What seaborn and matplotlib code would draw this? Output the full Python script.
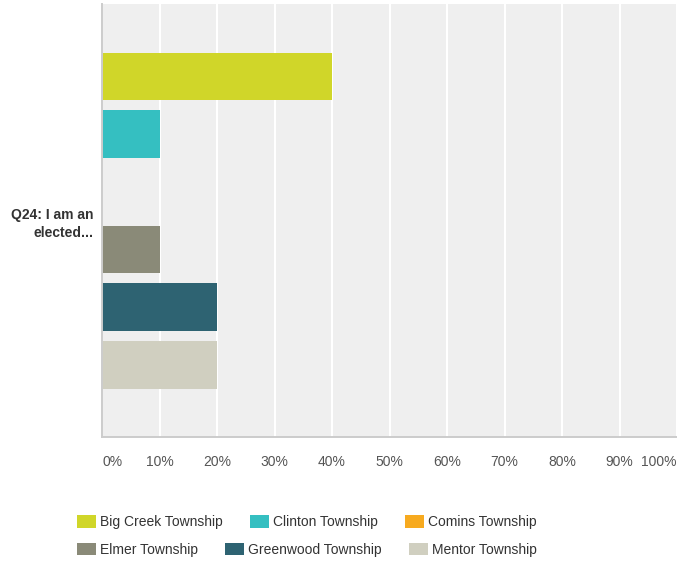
import pandas as pd
import matplotlib.pyplot as plt
import matplotlib.patches as mpatches
import seaborn as sns

# =========================
# DATA
# =========================

question = "Q24: I am an\nelected..."
townships = [
    "Big Creek Township",
    "Clinton Township",
    "Comins Township",
    "Elmer Township",
    "Greenwood Township",
    "Mentor Township",
]
percents = [40, 10, 0, 10, 20, 20]
colors = ["#d0d629", "#35bfc1", "#f7aa1f", "#8a8a78", "#2e6372", "#d0cfc0"]
tick_values = [0, 10, 20, 30, 40, 50, 60, 70, 80, 90, 100]
tick_labels = [f"{v}%" for v in tick_values]

df = pd.DataFrame({
    "question": [question] * len(townships),
    "township": townships,
    "pct": percents,
})

# =========================
# FIGURE
# =========================

sns.set_style("white")
plt.rcParams["font.family"] = ["Liberation Sans", "DejaVu Sans"]

fig = plt.figure(figsize=(6.77, 5.65), dpi=100)
ax = fig.add_axes([0.1507, 0.2265, 0.8493, 0.7664])
ax.set_facecolor("#efefef")

sns.barplot(
    data=df, x="pct", y="question", hue="township",
    hue_order=townships, palette=colors, orient="h",
    width=0.8, gap=0.18, saturation=1, linewidth=0,
    legend=False, ax=ax,
)

ax.set_xlim(0, 100)
ax.set_ylim(0.5, -0.5)
ax.set_xticks(tick_values)
ax.set_xticklabels(tick_labels, fontsize=10, color="#555555")
labels = ax.get_xticklabels()
labels[0].set_ha("left")
labels[-1].set_ha("right")
ax.tick_params(axis="x", length=0, pad=13)
ax.tick_params(axis="y", length=0, pad=6)
for lab in ax.get_yticklabels():
    lab.set_fontsize(10)
    lab.set_fontweight("bold")
    lab.set_color("#333333")
    lab.set_multialignment("right")
    lab.set_linespacing(1.35)

ax.set_axisbelow(True)
ax.grid(axis="x", color="white", linewidth=1.5)
ax.grid(axis="y", visible=False)
ax.set_xlabel("")
ax.set_ylabel("")

for side in ["top", "right"]:
    ax.spines[side].set_visible(False)
for side in ["left", "bottom"]:
    ax.spines[side].set_color("#cccccc")
    ax.spines[side].set_linewidth(1.4)

# =========================
# LEGEND (two rows)
# =========================

handles = [mpatches.Patch(facecolor=c, edgecolor="none") for c in colors]
rows = [(0, 3, 0.076), (3, 6, 0.0265)]
for start, end, ypos in rows:
    leg = fig.legend(
        handles[start:end], townships[start:end],
        loc="center left", bbox_to_anchor=(0.1137, ypos), ncol=3,
        frameon=False, fontsize=10, handlelength=1.37, handleheight=1.0,
        handletextpad=0.3, columnspacing=1.95, borderpad=0, borderaxespad=0,
    )
    for t in leg.get_texts():
        t.set_color("#333333")

fig.savefig("out.png", dpi=100)
